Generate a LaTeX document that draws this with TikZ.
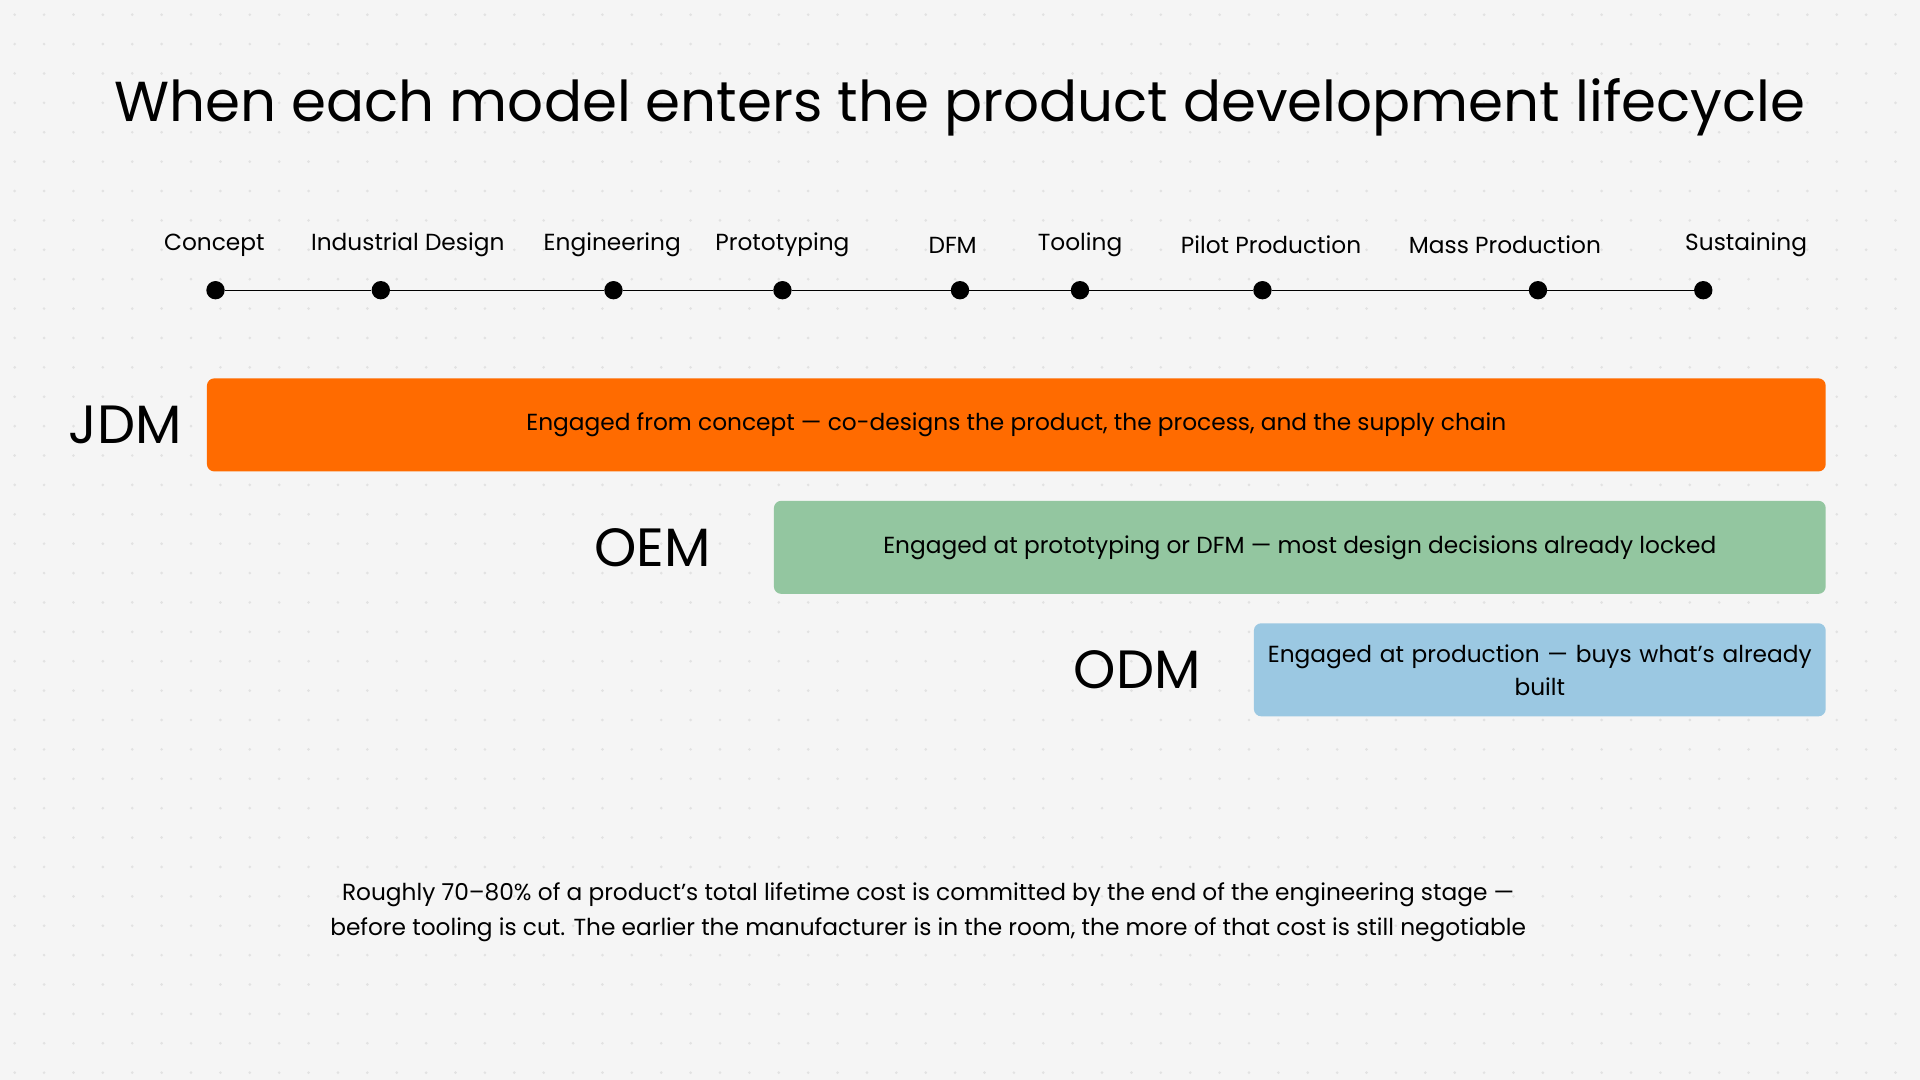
\documentclass[tikz,border=0pt]{standalone}
\usepackage{fontspec}
\setmainfont{Poppins}
\definecolor{bg}{HTML}{F5F5F5}
\definecolor{dotc}{HTML}{E2E2E2}
\definecolor{jdmc}{HTML}{FF6B00}
\definecolor{oemc}{HTML}{93C6A0}
\definecolor{odmc}{HTML}{9BC8E2}
\tikzset{
  stage/.style={font=\fontsize{19}{22}\selectfont, text=black},
  stagedot/.style={circle, fill=black, inner sep=0pt, minimum size=15pt},
  bar/.style={rounded corners=6pt, draw=none, minimum height=76pt, inner sep=0pt,
    font=\fontsize{19}{27}\selectfont, align=center},
  model/.style={font=\fontsize{44}{48}\selectfont, anchor=east}
}
\begin{document}
\begin{tikzpicture}[x=1pt,y=-1pt]
  \fill[bg] (0,0) rectangle (1568,882);
  \useasboundingbox (0,0) rectangle (1568,882);
  \foreach \i in {0,...,64} {
    \foreach \j in {0,...,36} {
      \fill[dotc] (12+\i*24,12+\j*24) circle (1.2pt);
    }
  }

  \node[font=\fontsize{46}{50}\selectfont] (title) at (784,88)
    {When each model enters the product development lifecycle};

  % stages
  \foreach \n/\x/\lx/\t in {
      con/176/175/Concept, ind/311/333/Industrial Design,
      eng/501/500/Engineering, pro/639/639/Prototyping,
      dfm/784/778/DFM, too/882/882/Tooling,
      pil/1031/1038/Pilot Production, mas/1256/1229/Mass Production,
      sus/1391/1426/Sustaining} {
    \node[stagedot] (\n) at (\x,237) {};
    \node[stage] (\n-l) at (\lx,200) {\t};
  }
  \draw[line width=1pt] (con) -- (ind) -- (eng) -- (pro) -- (dfm) -- (too)
    -- (pil) -- (mas) -- (sus);

  % models
  \node[bar, fill=jdmc, minimum width=1322pt] (jdm) at (830,347)
    {Engaged from concept — co-designs the product, the process, and the supply chain};
  \node[model] (jdm-l) at (152,347) {JDM};
  \node[bar, fill=oemc, minimum width=859pt] (oem) at (1061.5,447)
    {Engaged at prototyping or DFM — most design decisions already locked};
  \node[model] (oem-l) at (584,447) {OEM};
  \node[bar, fill=odmc, minimum width=467pt, text width=460pt] (odm) at (1257.5,547)
    {Engaged at production — buys what's already\\built};
  \node[model] (odm-l) at (984,547) {ODM};

  \node[font=\fontsize{19}{28}\selectfont, align=center] (note) at (758,745)
    {Roughly 70–80\% of a product's total lifetime cost is committed by the end of the engineering stage —\\
     before tooling is cut. The earlier the manufacturer is in the room, the more of that cost is still negotiable};
\end{tikzpicture}
\end{document}
